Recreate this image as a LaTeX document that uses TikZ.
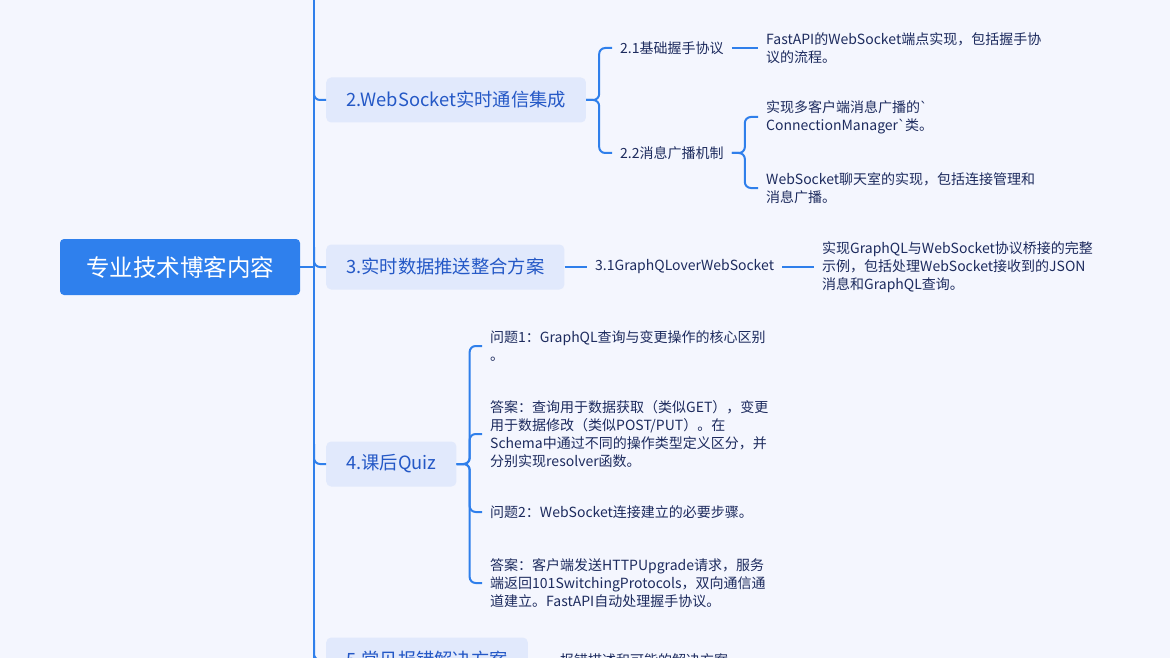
\documentclass[tikz,border=0pt]{standalone}
\usepackage{fontspec}
\setmainfont{Noto Sans CJK SC}
\newfontfamily\tickfont{DejaVu Sans}
\usetikzlibrary{positioning}
\definecolor{bgc}{HTML}{F4F6FE}
\definecolor{linec}{HTML}{2F7FEB}
\definecolor{rootc}{HTML}{2F80ED}
\definecolor{boxc}{HTML}{E1E9FC}
\definecolor{headc}{HTML}{2458C6}
\definecolor{inkc}{HTML}{1D2B5E}
\newcommand{\bq}{{\tickfont\char96}}
\begin{document}
\begin{tikzpicture}[
    x=1pt, y=-1pt,
    root/.style={rectangle,rounded corners=4,fill=rootc,text=white,minimum width=240,minimum height=56,font=\fontsize{23.5}{26}\selectfont},
    topic/.style={rectangle,rounded corners=5,fill=boxc,text=headc,anchor=west,minimum height=45,inner xsep=20,font=\fontsize{18.3}{20}\selectfont},
    sub/.style={anchor=west,text=inkc,inner xsep=8,font=\fontsize{14}{18}\selectfont},
    leaf/.style={anchor=west,text=inkc,inner xsep=8,align=left,font=\fontsize{14}{18}\selectfont},
    conn/.style={draw=linec,line width=2,rounded corners=6}
  ]
  \clip (0,0) rectangle (1170,658);
  \fill[bgc] (0,0) rectangle (1170,658);

  % Root and trunk
  \node[root] (root) at (180,267) {专业技术博客内容};
  \coordinate (top) at (314,-10);
  \coordinate (bot) at (314,680);
  \draw[conn] (top) -- (bot);
  \draw[conn] (root.east) -- (314,267);

  % Topics
  \node[topic] (t2) at (326,100) {2.WebSocket实时通信集成};
  \node[topic] (t3) at (326,267) {3.实时数据推送整合方案};
  \node[topic] (t4) at (326,464) {4.课后Quiz};
  \node[topic] (t5) at (326,660) {5.常见报错解决方案};
  \foreach \t/\y in {t2/100,t3/267,t4/464,t5/660}
    \draw[conn] (314,\y-20) |- (\t.west);

  % Branch 2
  \node[sub] (s21) at (612,48) {2.1基础握手协议};
  \node[sub] (s22) at (612,153) {2.2消息广播机制};
  \foreach \c in {s21,s22}
    \draw[conn] (t2.east) -- ++(13,0) |- (\c.west);
  \node[leaf] (l21) at (758,48) {FastAPI的WebSocket端点实现，包括握手协\\议的流程。};
  \draw[conn] (s21.east) -- (l21.west);
  \node[leaf] (l22a) at (758,117) {实现多客户端消息广播的\bq\\ConnectionManager\bq 类。};
  \node[leaf] (l22b) at (758,188) {WebSocket聊天室的实现，包括连接管理和\\消息广播。};
  \foreach \c in {l22a,l22b}
    \draw[conn] (s22.east) -- ++(13,0) |- (\c.west);

  % Branch 3
  \node[sub] (s31) at (587,267) {3.1GraphQLoverWebSocket};
  \draw[conn] (t3.east) -- (s31.west);
  \node[leaf] (l31) at (814,267) {实现GraphQL与WebSocket协议桥接的完整\\示例，包括处理WebSocket接收到的JSON\\消息和GraphQL查询。};
  \draw[conn] (s31.east) -- (l31.west);

  % Branch 4
  \node[leaf] (q1) at (482,346) {问题1：GraphQL查询与变更操作的核心区别\\。};
  \node[leaf] (a1) at (482,434) {答案：查询用于数据获取（类似GET），变更\\用于数据修改（类似POST/PUT）。在\\Schema中通过不同的操作类型定义区分，并\\分别实现resolver函数。};
  \node[leaf] (q2) at (482,512) {问题2：WebSocket连接建立的必要步骤。};
  \node[leaf] (a2) at (482,583) {答案：客户端发送HTTPUpgrade请求，服务\\端返回101SwitchingProtocols，双向通信通\\道建立。FastAPI自动处理握手协议。};
  \foreach \c in {q1,a1,q2,a2}
    \draw[conn] (t4.east) -- ++(13,0) |- (\c.west);

  % Branch 5
  \node[leaf] (l51) at (552,660) {报错描述和可能的解决方案};
  \draw[conn] (t5.east) -- (l51.west);
\end{tikzpicture}
\end{document}
